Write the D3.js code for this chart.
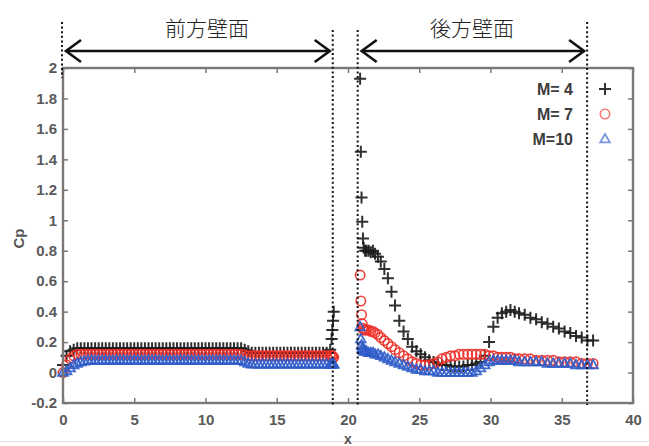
<!DOCTYPE html>
<html>
<head>
<meta charset="utf-8">
<script src="https://cdn.jsdelivr.net/npm/d3@7"></script>
<style>
  body { margin: 0; background: #fff; }
  svg { display: block; }
  text { font-family: "Liberation Sans", Arial, sans-serif; }
</style>
</head>
<body>
<svg id="chart" width="649" height="446"></svg>
<script>
// === DATA ===
const xTicks = [0, 5, 10, 15, 20, 25, 30, 35, 40];
const yTicks = [-0.2, 0, 0.2, 0.4, 0.6, 0.8, 1, 1.2, 1.4, 1.6, 1.8, 2];
const wallLabels = ["前方壁面", "後方壁面"];
const wallBounds = [[0, 19], [20.75, 36.85]];   // dotted lines / arrow ends (x)

// front wall sample positions
const frontX = [
  0, 0.25, 0.5, 0.75, 1, 1.25, 1.5, 1.75, 2, 2.25,
  2.5, 2.75, 3, 3.25, 3.5, 3.75, 4, 4.25, 4.5, 4.75,
  5, 5.25, 5.5, 5.75, 6, 6.25, 6.5, 6.75, 7, 7.25,
  7.5, 7.75, 8, 8.25, 8.5, 8.75, 9, 9.25, 9.5, 9.75,
  10, 10.25, 10.5, 10.75, 11, 11.25, 11.5, 11.75, 12, 12.25,
  12.5, 12.75, 13, 13.25, 13.5, 13.75, 14, 14.25, 14.5, 14.75,
  15, 15.25, 15.5, 15.75, 16, 16.25, 16.5, 16.75, 17, 17.25,
  17.5, 17.75, 18, 18.25, 18.5, 18.75, 18.85, 18.9, 18.95, 19
];
// back wall sample positions
const backX = [
  20.85, 20.9, 20.95, 21.0, 21.05, 21.1, 21.2, 21.3, 21.45, 21.6,
  21.75, 21.9, 22.1, 22.3, 22.55, 22.8, 23.05, 23.3, 23.6, 23.9,
  24.2, 24.5, 24.8, 25.1, 25.4, 25.7, 26.0, 26.3, 26.6, 26.9,
  27.2, 27.5, 27.8, 28.1, 28.4, 28.7, 29.0, 29.3, 29.6, 29.9,
  30.2, 30.5, 30.8, 31.1, 31.4, 31.7, 32.0, 32.4, 32.8, 33.2,
  33.6, 34.0, 34.4, 34.8, 35.2, 35.6, 36.0, 36.4, 36.8, 37.2
];

// M = 4
const cpM4Front = [
  0.05, 0.11, 0.14, 0.15, 0.16, 0.16, 0.16, 0.16, 0.16, 0.16,
  0.16, 0.16, 0.16, 0.16, 0.16, 0.16, 0.16, 0.16, 0.16, 0.16,
  0.16, 0.16, 0.16, 0.16, 0.16, 0.16, 0.16, 0.16, 0.16, 0.16,
  0.16, 0.16, 0.16, 0.16, 0.16, 0.16, 0.16, 0.16, 0.16, 0.16,
  0.16, 0.16, 0.16, 0.16, 0.16, 0.16, 0.16, 0.16, 0.16, 0.16,
  0.16, 0.15, 0.14, 0.13, 0.13, 0.13, 0.13, 0.13, 0.13, 0.13,
  0.13, 0.13, 0.13, 0.13, 0.13, 0.13, 0.13, 0.13, 0.13, 0.13,
  0.13, 0.13, 0.13, 0.13, 0.13, 0.15, 0.22, 0.28, 0.34, 0.40
];
const cpM4Back = [
  1.93, 1.45, 1.15, 0.99, 0.88, 0.82, 0.80, 0.80, 0.80, 0.79,
  0.80, 0.78, 0.76, 0.73, 0.68, 0.62, 0.53, 0.44, 0.34, 0.27,
  0.22, 0.17, 0.14, 0.12, 0.10, 0.08, 0.07, 0.06, 0.05, 0.05,
  0.04, 0.04, 0.04, 0.04, 0.05, 0.05, 0.06, 0.07, 0.11, 0.20,
  0.30, 0.36, 0.39, 0.40, 0.41, 0.40, 0.39, 0.38, 0.36, 0.35,
  0.33, 0.32, 0.30, 0.29, 0.27, 0.26, 0.24, 0.23, 0.21, 0.21
];
// M = 7
const cpM7Front = [
  0.00, 0.05, 0.09, 0.11, 0.12, 0.12, 0.12, 0.12, 0.12, 0.12,
  0.12, 0.12, 0.12, 0.12, 0.12, 0.12, 0.12, 0.12, 0.12, 0.12,
  0.12, 0.12, 0.12, 0.12, 0.12, 0.12, 0.12, 0.12, 0.12, 0.12,
  0.12, 0.12, 0.12, 0.12, 0.12, 0.12, 0.12, 0.12, 0.12, 0.12,
  0.12, 0.12, 0.12, 0.12, 0.12, 0.12, 0.12, 0.12, 0.12, 0.12,
  0.12, 0.115, 0.11, 0.11, 0.11, 0.11, 0.11, 0.11, 0.11, 0.11,
  0.11, 0.11, 0.11, 0.11, 0.11, 0.11, 0.11, 0.11, 0.11, 0.11,
  0.11, 0.11, 0.11, 0.11, 0.11, 0.11, 0.11, 0.11, 0.10, 0.10
];
const cpM7Back = [
  0.64, 0.47, 0.38, 0.32, 0.29, 0.28, 0.28, 0.28, 0.28, 0.27,
  0.27, 0.26, 0.25, 0.23, 0.21, 0.19, 0.17, 0.15, 0.13, 0.11,
  0.09, 0.07, 0.06, 0.05, 0.05, 0.05, 0.06, 0.07, 0.09, 0.10,
  0.11, 0.11, 0.12, 0.12, 0.12, 0.12, 0.12, 0.12, 0.12, 0.11,
  0.11, 0.10, 0.10, 0.10, 0.10, 0.09, 0.09, 0.09, 0.09, 0.08,
  0.08, 0.08, 0.08, 0.07, 0.07, 0.07, 0.07, 0.06, 0.06, 0.06
];
// M = 10
const cpM10Front = [
  0.00, 0.01, 0.03, 0.05, 0.06, 0.07, 0.075, 0.08, 0.08, 0.08,
  0.08, 0.08, 0.08, 0.08, 0.08, 0.08, 0.08, 0.08, 0.08, 0.08,
  0.08, 0.08, 0.08, 0.08, 0.08, 0.08, 0.08, 0.08, 0.08, 0.08,
  0.08, 0.08, 0.08, 0.08, 0.08, 0.08, 0.08, 0.08, 0.08, 0.08,
  0.08, 0.08, 0.08, 0.08, 0.08, 0.08, 0.08, 0.08, 0.08, 0.08,
  0.08, 0.07, 0.06, 0.055, 0.055, 0.055, 0.055, 0.055, 0.055, 0.055,
  0.055, 0.055, 0.055, 0.055, 0.055, 0.055, 0.055, 0.055, 0.055, 0.055,
  0.055, 0.055, 0.055, 0.055, 0.055, 0.055, 0.055, 0.055, 0.055, 0.055
];
const cpM10Back = [
  0.30, 0.22, 0.18, 0.16, 0.15, 0.14, 0.14, 0.14, 0.13, 0.13,
  0.13, 0.12, 0.12, 0.11, 0.10, 0.09, 0.08, 0.07, 0.06, 0.05,
  0.04, 0.03, 0.02, 0.02, 0.01, 0.01, 0.01, 0.00, 0.00, 0.00,
  0.00, 0.00, 0.00, 0.00, 0.00, 0.00, 0.01, 0.03, 0.05, 0.07,
  0.08, 0.08, 0.08, 0.08, 0.08, 0.08, 0.07, 0.07, 0.07, 0.07,
  0.07, 0.06, 0.06, 0.06, 0.06, 0.06, 0.05, 0.05, 0.05, 0.05
];

const series = [
  { label: "M= 4", shape: "plus",   color: "#1a1a1a", front: cpM4Front,  back: cpM4Back },
  { label: "M= 7", shape: "circle", color: "#ee2f28", front: cpM7Front,  back: cpM7Back },
  { label: "M=10", shape: "tri",    color: "#2f5cc9", front: cpM10Front, back: cpM10Back }
];

// === DRAW ===
const svg = d3.select("#chart");
const W = 649, H = 446;
const plot = { left: 63, right: 633, top: 68, bottom: 403 };

const x = d3.scaleLinear().domain([0, 40]).range([plot.left, plot.right]);
const y = d3.scaleLinear().domain([-0.2, 2]).range([plot.bottom, plot.top]);

// marker path generators
function markerPath(shape) {
  if (shape === "plus") return "M-6,0H6M0,-6V6";
  if (shape === "circle") return d3.symbol(d3.symbolCircle, 70)();
  return "M0,-5L4.8,3.4L-4.8,3.4Z";
}
const strokeW = { plus: 2, circle: 1.6, tri: 1.8 };

// bottom edge line of the scanned figure
svg.append("line").attr("x1", 0).attr("x2", W).attr("y1", 441.5).attr("y2", 441.5)
  .attr("stroke", "#e2e2e2").attr("stroke-width", 1);

// axes (MATLAB-like box with inward ticks)
const fmt = d => String(+d.toFixed(1));
const axisColor = "#7d7878";

svg.append("g").attr("transform", `translate(0,${plot.bottom})`)
  .call(d3.axisBottom(x).tickValues(xTicks).tickSize(-5).tickPadding(11).tickFormat(fmt))
  .call(g => g.select(".domain").remove());
svg.append("g").attr("transform", `translate(0,${plot.top})`)
  .call(d3.axisTop(x).tickValues(xTicks).tickSize(-5).tickFormat(""))
  .call(g => g.select(".domain").remove());
svg.append("g").attr("transform", `translate(${plot.left},0)`)
  .call(d3.axisLeft(y).tickValues(yTicks).tickSize(-5).tickPadding(6).tickFormat(fmt))
  .call(g => g.select(".domain").remove());
svg.append("g").attr("transform", `translate(${plot.right},0)`)
  .call(d3.axisRight(y).tickValues(yTicks).tickSize(-5).tickFormat(""))
  .call(g => g.select(".domain").remove());

svg.selectAll(".tick line").attr("stroke", axisColor).attr("stroke-width", 1.5);
svg.selectAll(".tick text").attr("fill", "#5a5a5a").attr("font-size", 15).attr("font-weight", "bold");

// data markers
const marks = svg.append("g");
series.forEach(s => {
  const pts = frontX.map((v, i) => [v, s.front[i]])
    .concat(backX.map((v, i) => [v, s.back[i]]));
  const g = marks.append("g");
  g.selectAll("path").data(pts).join("path")
    .attr("transform", d => `translate(${x(d[0])},${y(d[1])})`)
    .attr("d", markerPath(s.shape))
    .attr("fill", "none")
    .attr("stroke", s.color)
    .attr("stroke-width", strokeW[s.shape])
    .attr("stroke-opacity", 0.9);
});

// frame
svg.append("rect")
  .attr("x", plot.left).attr("y", plot.top)
  .attr("width", plot.right - plot.left).attr("height", plot.bottom - plot.top)
  .attr("fill", "none").attr("stroke", axisColor).attr("stroke-width", 2.4);

// axis labels
svg.append("text").attr("x", x(20)).attr("y", 444).attr("text-anchor", "middle")
  .attr("fill", "#555").attr("font-size", 14).attr("font-weight", "bold").text("x");
svg.append("text").attr("transform", `translate(24,${y(0.88)}) rotate(-90)`)
  .attr("text-anchor", "middle").attr("fill", "#555").attr("font-size", 15)
  .attr("font-weight", "bold").text("Cp");

// legend
const legend = svg.append("g");
series.forEach((s, i) => {
  const ly = 89 + i * 25;
  legend.append("text").attr("x", 573).attr("y", ly + 6).attr("text-anchor", "end")
    .attr("fill", "#3c3c3c").attr("font-size", 16).attr("font-weight", "bold")
    .style("white-space", "pre").text(s.label);
  legend.append("path").attr("transform", `translate(605,${ly})`)
    .attr("d", markerPath(s.shape)).attr("fill", "none")
    .attr("stroke", s.shape === "plus" ? "#333" : s.color)
    .attr("stroke-opacity", s.shape === "plus" ? 1 : 0.65)
    .attr("stroke-width", strokeW[s.shape]);
});

// wall annotations: dotted boundaries, double arrows, labels
const ann = svg.append("g");
const dotted = [
  { v: wallBounds[0][0], y1: 22, y2: 78 },
  { v: wallBounds[0][1], y1: 30, y2: plot.bottom + 2 },
  { v: wallBounds[1][0], y1: 30, y2: plot.bottom + 2 },
  { v: wallBounds[1][1], y1: 22, y2: plot.bottom + 2 }
];
ann.selectAll("line.dot").data(dotted).join("line")
  .attr("class", "dot")
  .attr("x1", d => x(d.v) - 1).attr("x2", d => x(d.v) - 1)
  .attr("y1", d => d.y1).attr("y2", d => d.y2)
  .attr("stroke", "#111").attr("stroke-width", 2).attr("stroke-dasharray", "2,2.6");

const arrowY = 51;
wallBounds.forEach((b, i) => {
  const x1 = x(b[0]) + 3, x2 = x(b[1]) - 4;
  ann.append("line").attr("x1", x1).attr("x2", x2).attr("y1", arrowY).attr("y2", arrowY)
    .attr("stroke", "#111").attr("stroke-width", 2.6);
  ann.append("path")
    .attr("d", `M${x1 + 15},${arrowY - 11}L${x1},${arrowY}L${x1 + 15},${arrowY + 11}` +
               `M${x2 - 15},${arrowY - 11}L${x2},${arrowY}L${x2 - 15},${arrowY + 11}`)
    .attr("fill", "none").attr("stroke", "#111").attr("stroke-width", 2.6);
  ann.append("text").attr("x", i === 0 ? 207 : 472).attr("y", 36)
    .attr("text-anchor", "middle").attr("fill", "#222").attr("font-size", 21)
    .style("font-family", '"Noto Sans CJK JP", sans-serif').attr("font-weight", 300)
    .text(wallLabels[i]);
});
</script>
</body>
</html>
